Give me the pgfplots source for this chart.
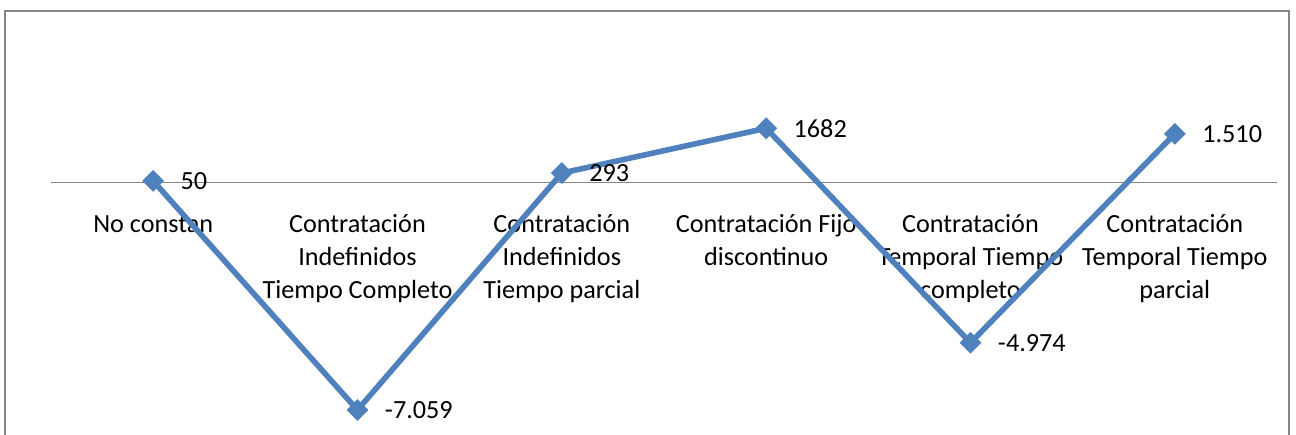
\documentclass[border=0pt]{standalone}
\usepackage{pgfplots}
\pgfplotsset{compat=1.18}
\usepackage{fontspec}
\setmainfont{Carlito}
\definecolor{lineblue}{HTML}{4F81BD}
\definecolor{framegray}{HTML}{868686}
\begin{document}
\begin{tikzpicture}
\useasboundingbox (0,0) rectangle (648pt,217pt);
\draw[framegray, line width=1pt] (2.5pt,-5pt) -- (2.5pt,211.5pt) -- (644.5pt,211.5pt) -- (644.5pt,-5pt);
\begin{axis}[
  at={(25.5pt,4.89pt)}, anchor=south west,
  scale only axis, width=613pt, height=185.32pt,
  xmin=-0.5, xmax=5.5, ymin=-7500, ymax=4000,
  axis x line*=middle, axis y line=none,
  x axis line style={framegray, line width=0.5pt},
  xtick={0,1,2,3,4,5}, ytick=\empty, major tick length=0pt,
  xticklabels={\strut No constan,
    {\strut Contratación\\Indefinidos\\Tiempo Completo},
    {\strut Contratación\\Indefinidos\\Tiempo parcial},
    {\strut Contratación Fijo\\discontinuo},
    {\strut Contratación\\Temporal Tiempo\\completo},
    {\strut Contratación\\Temporal Tiempo\\parcial}},
  x tick label style={font=\fontsize{13.1}{16.3}\selectfont, align=center, anchor=north, inner sep=0pt, yshift=-13.6pt},
  clip=false,
]
\addplot[lineblue, line width=2.8pt, mark=square*, mark size=3.6pt, mark options={rotate=45, solid, fill=lineblue, line width=0.5pt},
  nodes near coords, point meta=explicit symbolic,
  every node near coord/.style={anchor=west, inner sep=0pt, xshift=13.5pt, text=black, font=\fontsize{13.1}{16.3}\selectfont}]
  table[meta=label] {
x y label
0 50 50
1 -7059 -7.059
2 293 293
3 1682 1682
4 -4974 -4.974
5 1510 1.510
};
\end{axis}
\end{tikzpicture}
\end{document}
